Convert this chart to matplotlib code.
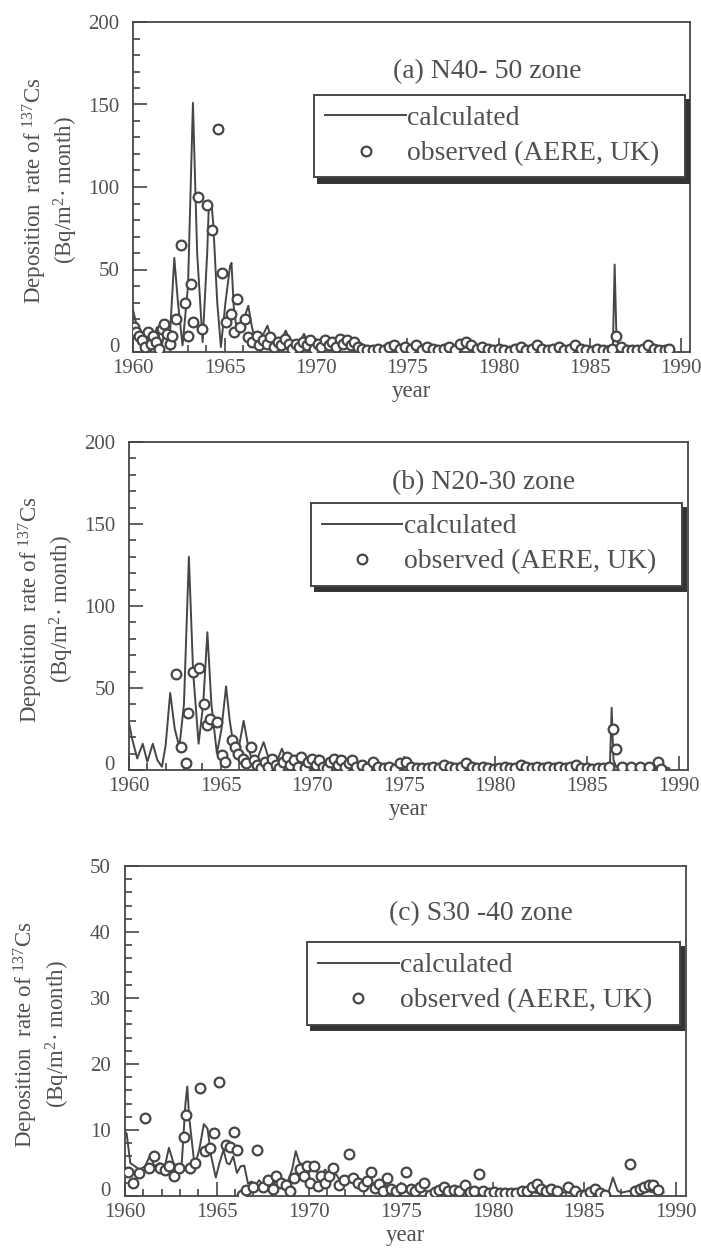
import numpy as np
import matplotlib.pyplot as plt
from matplotlib.ticker import MultipleLocator
from matplotlib.transforms import ScaledTranslation

plt.rcParams['font.family'] = ['Liberation Serif', 'DejaVu Serif']
plt.rcParams['mathtext.fontset'] = 'custom'
plt.rcParams['mathtext.rm'] = 'Liberation Serif'

INK = '#464646'
TXT = '#505050'

# ---- panel (a) N40-50 ----
a_calc_year = [1960.0, 1960.15, 1960.4, 1960.6, 1960.8, 1961.0, 1961.3, 1961.55, 1961.8, 1962.0,
               1962.25, 1962.45, 1962.7, 1963.0, 1963.27, 1963.5, 1963.8, 1964.05, 1964.15, 1964.3,
               1964.38, 1964.6, 1964.8, 1965.05, 1965.3, 1965.38, 1965.5, 1965.7, 1966.0, 1966.3,
               1966.5, 1966.75, 1967.0, 1967.35, 1967.55, 1967.8, 1968.1, 1968.35, 1968.6, 1968.85,
               1969.1, 1969.35, 1969.6, 1969.85, 1970.1, 1970.35, 1970.6, 1970.85, 1971.1, 1971.35,
               1971.6, 1971.85, 1972.1, 1972.35, 1972.6, 1972.85, 1973.35, 1973.85, 1974.35, 1974.85,
               1975.35, 1975.85, 1976.35, 1976.85, 1977.35, 1977.85, 1978.35, 1978.85, 1979.35, 1979.85,
               1980.35, 1980.85, 1981.35, 1981.85, 1982.35, 1982.85, 1983.35, 1983.85, 1984.35, 1984.85,
               1985.35, 1985.85, 1986.25, 1986.35, 1986.45, 1986.6, 1986.85, 1987.35, 1987.85, 1988.35,
               1988.85, 1989.35, 1989.5]
a_calc_val = [25, 18, 5, 8, 13, 4, 15, 3, 17, 8,
              57, 30, 4, 40, 151, 60, 6, 60, 92, 88,
              78, 30, 3, 30, 52, 54, 28, 10, 18, 28,
              15, 4, 8, 16, 8, 3, 7, 13, 6, 3,
              6, 11, 5, 3, 5, 9, 4, 2, 5, 8,
              4, 2, 4, 6, 3, 1.5, 4, 1.5, 4.5, 1.5,
              4, 1.2, 3.5, 1.0, 3.5, 1.2, 4.0, 1.2, 3.0, 1.0,
              3.0, 1.0, 3.5, 1.0, 2.5, 0.8, 2.5, 0.8, 2.0, 0.5,
              1.5, 0.5, 1.0, 53, 8, 3, 1.5, 2.5, 1.0, 2.0,
              0.8, 1.5, 1.0]
a_obs_year = [1960.05, 1960.15, 1960.3, 1960.5, 1960.65, 1960.8, 1960.95, 1961.1, 1961.25, 1961.4,
              1961.55, 1961.7, 1961.85, 1962.0, 1962.15, 1962.32, 1962.6, 1962.83, 1963.0, 1963.17,
              1963.26, 1963.53, 1963.75, 1964.06, 1964.34, 1964.62, 1964.85, 1965.1, 1965.38, 1965.5,
              1965.66, 1965.85, 1966.13, 1966.3, 1966.5, 1966.75, 1966.9, 1967.1, 1967.3, 1967.5,
              1967.7, 1967.9, 1968.1, 1968.3, 1968.5, 1968.7, 1968.9, 1969.1, 1969.3, 1969.5,
              1969.7, 1969.9, 1970.1, 1970.3, 1970.5, 1970.7, 1970.9, 1971.1, 1971.3, 1971.5,
              1971.7, 1971.9, 1972.1, 1972.3, 1972.5, 1972.8, 1973.1, 1973.4, 1973.7, 1974.0,
              1974.3, 1974.6, 1974.9, 1975.2, 1975.5, 1975.8, 1976.1, 1976.4, 1976.7, 1977.0,
              1977.3, 1977.6, 1977.9, 1978.2, 1978.5, 1978.8, 1979.1, 1979.4, 1979.7, 1980.0,
              1980.3, 1980.6, 1980.9, 1981.2, 1981.5, 1981.8, 1982.1, 1982.4, 1982.7, 1983.0,
              1983.3, 1983.6, 1983.9, 1984.2, 1984.5, 1984.8, 1985.1, 1985.4, 1985.7, 1986.0,
              1986.2, 1986.42, 1986.7, 1987.0, 1987.3, 1987.6, 1987.9, 1988.2, 1988.5, 1988.8,
              1989.1, 1989.35]
a_obs_val = [15, 12, 10, 7, 3, 12, 5, 10, 6, 2,
             14, 17, 11, 5, 10, 20, 65, 30, 10, 41,
             18, 94, 14, 89, 74, 135, 48, 18, 23, 12,
             32, 15, 20, 9, 6, 10, 4, 7, 5, 9,
             3, 6, 4, 8, 5, 2, 5, 3, 6, 4,
             7, 2, 5, 3, 7, 4, 6, 3, 8, 5,
             7, 4, 6, 3, 2, 1, 1, 2, 1, 3,
             4, 2, 3, 2, 4, 1, 3, 2, 1, 2,
             3, 1, 5, 6, 4, 2, 3, 2, 1, 2,
             1, 0.5, 2, 3, 1, 2, 4, 2, 1, 2,
             3, 1, 2, 4, 2, 1, 0.5, 2, 1, 0.5,
             2, 10, 3, 1, 1, 1, 2, 4, 2, 1,
             1.5, 2]

# ---- panel (b) N20-30 ----
b_calc_year = [1960.0, 1960.15, 1960.45, 1960.75, 1961.0, 1961.3, 1961.55, 1961.8, 1962.0, 1962.25,
               1962.5, 1962.75, 1963.0, 1963.27, 1963.5, 1963.8, 1964.05, 1964.28, 1964.5, 1964.8,
               1965.05, 1965.3, 1965.5, 1965.75, 1966.0, 1966.26, 1966.5, 1966.75, 1967.05, 1967.35,
               1967.6, 1967.85, 1968.1, 1968.35, 1968.6, 1968.85, 1969.1, 1969.35, 1969.6, 1969.85,
               1970.1, 1970.35, 1970.6, 1970.85, 1971.1, 1971.35, 1971.6, 1971.85, 1972.1, 1972.35,
               1972.6, 1972.85, 1973.35, 1973.85, 1974.35, 1974.85, 1975.35, 1975.85, 1976.35, 1976.85,
               1977.35, 1977.85, 1978.35, 1978.85, 1979.35, 1979.85, 1980.35, 1980.85, 1981.35, 1981.85,
               1982.35, 1982.85, 1983.35, 1983.85, 1984.35, 1984.85, 1985.35, 1985.85, 1986.25, 1986.35,
               1986.45, 1986.6, 1986.85, 1987.35, 1987.85, 1988.35, 1988.85, 1989.35, 1989.5]
b_calc_val = [29, 20, 7, 16, 5, 16, 6, 2, 15, 47,
              25, 14, 40, 130, 60, 16, 40, 84, 40, 10,
              25, 51, 30, 12, 14, 30, 15, 4, 8, 17,
              8, 3, 6, 13, 6, 3, 5, 10, 5, 2,
              5, 9, 4, 2, 4, 8, 4, 2, 4, 6,
              3, 1.5, 4, 1.2, 3.5, 1.0, 3.5, 1.0, 3.0, 1.0,
              3.0, 1.0, 3.0, 1.0, 2.5, 0.8, 2.5, 0.8, 2.5, 0.8,
              2.0, 0.6, 2.0, 0.6, 2.0, 0.5, 1.5, 0.5, 1.0, 38,
              6, 2, 1.5, 2.0, 1.0, 2.0, 0.8, 1.5, 1.0]
b_obs_year = [1962.58, 1962.86, 1963.1, 1963.23, 1963.48, 1963.8, 1964.07, 1964.26, 1964.45, 1964.8,
              1965.1, 1965.25, 1965.6, 1965.8, 1965.95, 1966.2, 1966.4, 1966.65, 1966.85, 1967.0,
              1967.2, 1967.4, 1967.6, 1967.8, 1968.0, 1968.2, 1968.4, 1968.6, 1968.8, 1969.0,
              1969.2, 1969.4, 1969.6, 1969.8, 1970.0, 1970.2, 1970.4, 1970.6, 1970.8, 1971.0,
              1971.2, 1971.4, 1971.6, 1971.8, 1972.0, 1972.2, 1972.4, 1972.7, 1973.0, 1973.3,
              1973.6, 1973.9, 1974.2, 1974.5, 1974.8, 1975.1, 1975.4, 1975.7, 1976.0, 1976.3,
              1976.6, 1976.9, 1977.2, 1977.5, 1977.8, 1978.1, 1978.4, 1978.7, 1979.0, 1979.3,
              1979.6, 1979.9, 1980.2, 1980.5, 1980.8, 1981.1, 1981.4, 1981.7, 1982.0, 1982.3,
              1982.6, 1982.9, 1983.2, 1983.5, 1983.8, 1984.1, 1984.4, 1984.7, 1985.0, 1985.3,
              1985.6, 1985.9, 1986.2, 1986.45, 1986.6, 1986.9, 1987.4, 1987.9, 1988.4, 1988.9,
              1989.05]
b_obs_val = [58.5, 14, 4.5, 35, 60, 62.5, 40, 27.5, 31, 29,
             9, 5, 18, 14, 10, 7, 4, 14, 6, 3,
             1, 5, 2, 7, 3, 1, 5, 8, 3, 6,
             2, 8, 1, 5, 7, 3, 6, 2, 1, 5,
             7, 3, 6, 2, 4, 6, 2, 3, 1, 5,
             2, 1, 2, 0.5, 4, 5, 2, 1, 1, 1,
             2, 1, 3, 2, 1, 2, 4, 2, 1, 2,
             1, 0.5, 1, 2, 1, 1, 3, 2, 1, 2,
             1, 2, 1, 2, 1, 2, 3, 1, 1, 0.5,
             1, 1, 2, 25, 13, 2, 2, 2, 2, 5,
             0.5]

# ---- panel (c) S30-40 ----
c_calc_year = [1960.0, 1960.1, 1960.3, 1960.55, 1960.8, 1961.1, 1961.4, 1961.6, 1961.9, 1962.1,
               1962.4, 1962.65, 1962.9, 1963.1, 1963.3, 1963.4, 1963.5, 1963.8, 1964.05, 1964.3,
               1964.5, 1964.7, 1964.95, 1965.15, 1965.37, 1965.55, 1965.7, 1965.9, 1966.1, 1966.3,
               1966.5, 1966.7, 1966.9, 1967.1, 1967.3, 1967.6, 1967.8, 1968.0, 1968.3, 1968.6,
               1968.9, 1969.1, 1969.3, 1969.5, 1969.7, 1970.0, 1970.3, 1970.6, 1970.9, 1971.2,
               1971.5, 1971.8, 1972.1, 1972.4, 1972.7, 1973.0, 1973.3, 1973.6, 1973.9, 1974.2,
               1974.5, 1974.8, 1975.1, 1975.4, 1975.8, 1976.2, 1976.6, 1977.0, 1977.5, 1978.0,
               1978.5, 1979.0, 1979.5, 1980.0, 1980.5, 1981.0, 1981.5, 1982.0, 1982.5, 1983.0,
               1983.5, 1984.0, 1984.5, 1985.0, 1985.5, 1986.0, 1986.3, 1986.55, 1986.8, 1987.0,
               1987.5, 1988.0, 1988.5, 1989.0, 1989.3]
c_calc_val = [9.7, 9.5, 5.0, 4.5, 4.0, 4.5, 6.3, 4.5, 5.0, 3.5,
              7.3, 5.0, 4.3, 5.0, 14.0, 16.6, 12.0, 4.5, 7.0, 10.9,
              10.2, 6.0, 2.8, 5.0, 7.0, 5.0, 4.8, 6.0, 3.5, 4.5,
              4.6, 1.9, 2.2, 1.5, 2.4, 1.5, 2.8, 1.5, 2.5, 1.5,
              2.5, 4.0, 6.8, 5.0, 4.8, 3.5, 4.3, 3.0, 4.0, 3.0,
              3.3, 1.8, 3.0, 2.2, 1.5, 2.2, 1.5, 2.0, 1.0, 1.8,
              1.0, 1.4, 0.8, 1.2, 0.6, 1.0, 0.5, 0.9, 0.5, 0.8,
              0.5, 0.8, 0.4, 0.7, 0.4, 0.6, 0.3, 0.7, 0.4, 0.6,
              0.3, 0.6, 0.3, 0.5, 0.3, 0.5, 0.5, 2.8, 0.8, 0.5,
              0.8, 0.5, 0.7, 0.4, 0.5]
c_obs_year = [1960.2, 1960.45, 1960.75, 1961.1, 1961.3, 1961.6, 1961.9, 1962.2, 1962.4, 1962.65,
              1962.95, 1963.24, 1963.33, 1963.57, 1963.8, 1964.07, 1964.35, 1964.63, 1964.87, 1965.1,
              1965.5, 1965.7, 1965.93, 1966.1, 1966.35, 1966.6, 1966.95, 1967.17, 1967.5, 1967.8,
              1968.05, 1968.25, 1968.5, 1968.75, 1969.0, 1969.2, 1969.55, 1969.75, 1969.9, 1970.1,
              1970.3, 1970.5, 1970.65, 1970.9, 1971.1, 1971.35, 1971.65, 1971.9, 1972.2, 1972.4,
              1972.7, 1972.95, 1973.15, 1973.4, 1973.6, 1973.85, 1974.05, 1974.25, 1974.5, 1974.75,
              1975.0, 1975.3, 1975.55, 1975.8, 1976.05, 1976.3, 1976.6, 1976.85, 1977.1, 1977.35,
              1977.6, 1977.9, 1978.2, 1978.5, 1978.75, 1979.0, 1979.25, 1979.5, 1979.8, 1980.1,
              1980.4, 1980.7, 1981.0, 1981.3, 1981.6, 1981.9, 1982.15, 1982.4, 1982.65, 1982.9,
              1983.2, 1983.5, 1984.1, 1984.5, 1984.8, 1985.05, 1985.3, 1985.6, 1985.85, 1986.1,
              1987.5, 1987.75, 1988.0, 1988.25, 1988.5, 1988.75, 1989.0]
c_obs_val = [3.6, 1.9, 3.5, 11.8, 4.3, 6.0, 4.3, 4.0, 4.6, 3.1,
             4.3, 9.0, 12.2, 4.3, 5.0, 16.3, 6.8, 7.3, 9.6, 17.2,
             7.7, 7.5, 9.7, 7.0, 0.1, 0.9, 1.4, 7.0, 1.4, 2.4,
             1.0, 3.1, 2.0, 1.6, 0.8, 2.8, 4.1, 3.0, 4.5, 2.0,
             4.6, 1.5, 3.1, 2.0, 3.0, 4.3, 1.6, 2.4, 6.3, 2.8,
             1.9, 1.5, 2.2, 3.6, 1.2, 1.8, 0.8, 2.8, 1.1, 0.8,
             1.2, 3.6, 1.0, 0.8, 1.4, 1.9, 0.1, 0.6, 0.9, 1.3,
             0.7, 0.9, 0.8, 1.6, 0.6, 0.8, 3.4, 0.7, 0.5, 0.6,
             0.4, 0.4, 0.5, 0.4, 0.8, 0.7, 1.3, 1.8, 1.0, 0.8,
             1.0, 0.8, 1.3, 0.8, 0.2, 0.1, 0.6, 1.0, 0.4, 0.2,
             4.8, 0.8, 1.0, 1.4, 1.7, 1.6, 0.9]

titles = ['(a) N40- 50 zone', '(b) N20-30 zone', '(c) S30 -40 zone']
ymaxes = [200, 200, 50]
ymajor = [50, 50, 10]
yminor = [10, 10, 2]

panels = [
    (a_calc_year, a_calc_val, a_obs_year, a_obs_val),
    (b_calc_year, b_calc_val, b_obs_year, b_obs_val),
    (c_calc_year, c_calc_val, c_obs_year, c_obs_val),
]

# axes rectangles in figure fraction (left, bottom, width, height)
rects = [(0.190, 0.7184, 0.795, 0.264),
         (0.184, 0.384, 0.797, 0.2624),
         (0.178, 0.0432, 0.800, 0.264)]
title_y = [0.85, 0.875, 0.855]
legend_top = [0.78, 0.815, 0.77]

fig = plt.figure(figsize=(7.01, 12.5), dpi=100)
axes = []

for i, (cy, cv, oy, ov) in enumerate(panels):
    ax = fig.add_axes(rects[i])
    axes.append(ax)
    ln, = ax.plot(cy, cv, color=INK, lw=1.4, zorder=2)
    pt, = ax.plot(oy, ov, ls='none', marker='o', ms=7, mfc='white', mec=INK, mew=1.6, zorder=3)

    ax.set_xlim(1960, 1990.5)
    ax.set_ylim(0, ymaxes[i])
    ax.xaxis.set_major_locator(MultipleLocator(5))
    ax.xaxis.set_minor_locator(MultipleLocator(1))
    ax.yaxis.set_major_locator(MultipleLocator(ymajor[i]))
    ax.yaxis.set_minor_locator(MultipleLocator(yminor[i]))
    ax.tick_params(which='both', direction='in', top=False, right=False,
                   colors=INK, labelcolor=TXT, labelsize=15, width=1.2)
    ax.tick_params(which='major', length=10)
    ax.tick_params(which='minor', length=5)
    ax.tick_params(axis='y', pad=10)
    ax.tick_params(axis='x', pad=5)
    for s in ax.spines.values():
        s.set_color(INK)
        s.set_linewidth(1.3)

    ax.set_xlabel('year', fontsize=16.5, color=TXT, labelpad=2)
    ax.set_ylabel('Deposition  rate of $\\mathregular{^{137}}$Cs\n(Bq/m$\\mathregular{^{2}}$\u00b7 month)',
                  fontsize=16.5, color=TXT, linespacing=1.15)
    ax.yaxis.set_label_coords(-0.095, 0.49)

    ax.text(0.635, title_y[i], titles[i], transform=ax.transAxes, ha='center', va='center',
            fontsize=20, color=TXT)

    leg = ax.legend([ln, pt], ['calculated', 'observed (AERE, UK)'],
                    loc='upper left', bbox_to_anchor=(0.325, 0.0, 0.665, legend_top[i]),
                    mode='expand', borderaxespad=0, fontsize=20, labelcolor=TXT,
                    handlelength=2.9, handletextpad=0.05, numpoints=1,
                    labelspacing=0.35, borderpad=0.4, fancybox=False, framealpha=1,
                    edgecolor=INK, shadow={'color': '#333333', 'alpha': 1, 'ox': 3, 'oy': -4})
    leg.get_frame().set_linewidth(1.4)

# lift each "0" label a little so it clears the "1960" label
fig.canvas.draw()
lift = ScaledTranslation(0, 5 / 72, fig.dpi_scale_trans)
for ax in axes:
    for tick in ax.yaxis.get_major_ticks():
        if abs(tick.get_loc()) < 1e-9:
            tick.label1.set_transform(tick.label1.get_transform() + lift)

fig.savefig('out.png', dpi=100, facecolor='white')
